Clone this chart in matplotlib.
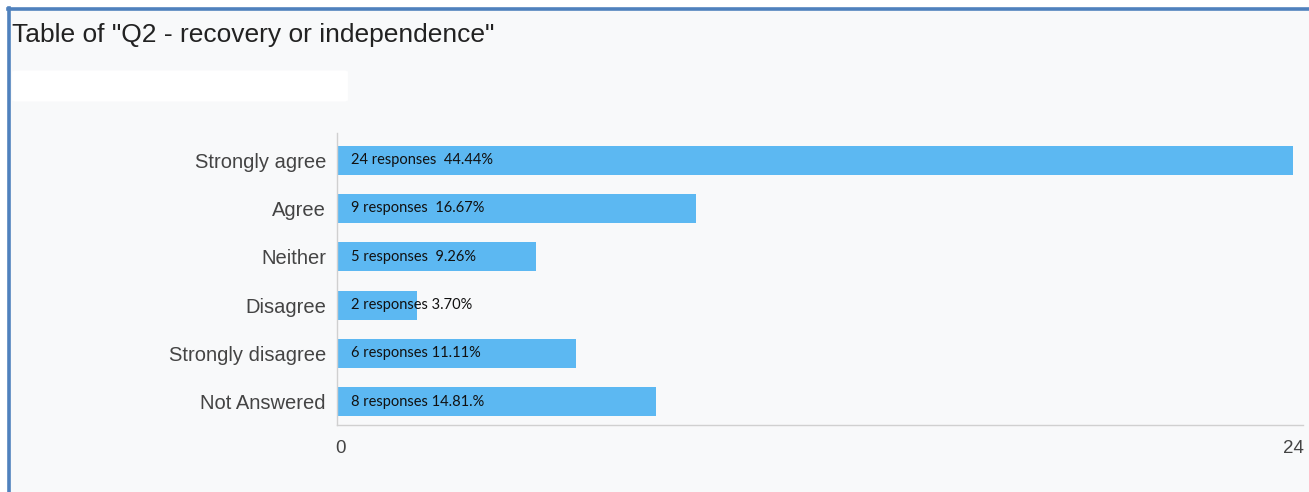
import matplotlib.pyplot as plt
from matplotlib.patches import Rectangle, FancyBboxPatch
from matplotlib.lines import Line2D
from matplotlib.transforms import ScaledTranslation

# Datos
categorias = ["Strongly agree", "Agree", "Neither", "Disagree",
              "Strongly disagree", "Not Answered"]
respuestas = [24, 9, 5, 2, 6, 8]
etiquetas = ["24 responses  44.44%", "9 responses  16.67%", "5 responses  9.26%",
             "2 responses 3.70%", "6 responses 11.11%", "8 responses 14.81.%"]
ticks_x = [0, 24]

fig = plt.figure(figsize=(13.09, 4.92), dpi=100)
fig.patch.set_facecolor("white")

# Fondo del panel y borde azul (arriba e izquierda)
fig.patches.append(Rectangle((10 / 1309, 0), 1, 1 - 10 / 492, transform=fig.transFigure,
                             facecolor="#f8f9fa", edgecolor="none", zorder=-3))
fig.lines.append(Line2D([9 / 1309, 9 / 1309], [0, 1 - 8 / 492], transform=fig.transFigure,
                        color="#4f81bd", lw=2.6, zorder=-1))
fig.lines.append(Line2D([8 / 1309, 1], [1 - 9 / 492, 1 - 9 / 492], transform=fig.transFigure,
                        color="#4f81bd", lw=2.6, zorder=-1))

# Caja blanca (texto oculto bajo el titulo)
fig.patches.append(FancyBboxPatch((16 / 1309, 1 - 100 / 492), 328 / 1309, 28 / 492,
                                  boxstyle="round,pad=0.003", transform=fig.transFigure,
                                  facecolor="white", edgecolor="none", zorder=-2))

fig.text(12 / 1309, 1 - 35 / 492, 'Table of "Q2 - recovery or independence"',
         fontsize=19, family="Liberation Sans", color="#222222", va="center", ha="left")

ax = fig.add_axes([337 / 1309, 1 - 425 / 492, 966 / 1309, 292 / 492])
ax.set_facecolor("none")
ax.set_zorder(2)

pos = list(range(len(categorias)))
ax.barh(pos, respuestas, height=0.6, color="#5cb8f2", zorder=2)

for p, txt in zip(pos, etiquetas):
    ax.text(0.36, p, txt, fontsize=10.5, family="Lato", color="#111111",
            va="center", ha="left", zorder=3)

ax.set_xlim(0, 24.25)
ax.set_ylim(5.48, -0.56)
ax.set_yticks(pos)
ax.set_yticklabels(categorias, fontsize=14.5, family="Liberation Sans", color="#444444")
ax.set_xticks(ticks_x)
ax.set_xticklabels([str(t) for t in ticks_x], fontsize=13.5, family="Liberation Sans",
                   color="#444444")
ax.tick_params(axis="both", length=0)
ax.tick_params(axis="y", pad=8)
ax.tick_params(axis="x", pad=11)

# mover un poco el "0" a la derecha
lbl0 = ax.xaxis.get_major_ticks()[0].label1
lbl0.set_transform(lbl0.get_transform() + ScaledTranslation(4 / 100, 0, fig.dpi_scale_trans))

for lado in ["top", "right"]:
    ax.spines[lado].set_visible(False)
for lado in ["left", "bottom"]:
    ax.spines[lado].set_color("#d0d0d0")
    ax.spines[lado].set_linewidth(1)

plt.savefig("out.png", dpi=100)
